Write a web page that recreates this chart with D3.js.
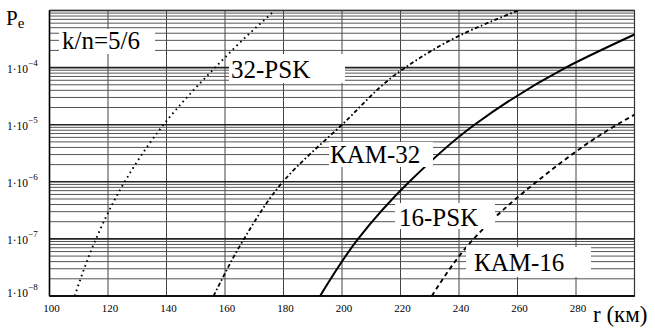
<!DOCTYPE html>
<html>
<head>
<meta charset="utf-8">
<script src="https://cdn.jsdelivr.net/npm/d3@7"></script>
<style>
  body { margin: 0; background: #fff; }
</style>
</head>
<body>
<svg id="chart"></svg>
<script>
// distance r (km) and error probability Pe
const psk32R = [108.6, 115.9, 125.7, 139.0, 156.6, 166.2, 177];
const psk32P = [1e-8, 1e-7, 1e-6, 1e-5, 1e-4, 3.1e-4, 1e-3];
const qam32R = [156.1, 166.5, 179.8, 200.0, 221.6, 240.0, 260.2];
const qam32P = [1e-8, 1e-7, 1e-6, 1e-5, 1e-4, 3.6e-4, 1e-3];
const psk16R = [192.5, 205.5, 223.0, 245.3, 276.5, 300];
const psk16P = [1e-8, 1e-7, 1e-6, 1e-5, 1e-4, 3.8e-4];
const qam16R = [230.7, 245.0, 266.5, 294.0, 300];
const qam16P = [1e-8, 1e-7, 1e-6, 1e-5, 1.5e-5];

const xTicks = [100, 120, 140, 160, 180, 200, 220, 240, 260, 280];
const decades = [-8, -7, -6, -5, -4];

const width = 655, height = 329;
const margin = {top: 10.5, right: 20.5, bottom: 33, left: 49.5};
const serif = "Liberation Serif, Times New Roman, DejaVu Serif, serif";

const svg = d3.select("#chart")
    .attr("width", width).attr("height", height)
    .style("font-family", serif);

const x = d3.scaleLinear().domain([100, 300]).range([margin.left, width - margin.right]);
const y = d3.scaleLog().domain([1e-8, 1e-3]).range([height - margin.bottom, margin.top]);

const grid = svg.append("g");

// vertical grid
grid.selectAll(".vx")
    .data(d3.range(100, 301, 20))
    .join("line")
    .attr("x1", d => x(d)).attr("x2", d => x(d))
    .attr("y1", y(1e-3)).attr("y2", y(1e-8))
    .attr("stroke", "#444").attr("stroke-width", 1);

// minor horizontal grid (2..9 per decade)
const minor = [];
decades.forEach(dc => { for (let k = 2; k <= 9; k++) minor.push(k * Math.pow(10, dc)); });
grid.selectAll(".hm")
    .data(minor)
    .join("line")
    .attr("x1", x(100)).attr("x2", x(300))
    .attr("y1", d => y(d)).attr("y2", d => y(d))
    .attr("stroke", "#555").attr("stroke-width", 1);

// decade lines
grid.selectAll(".hM")
    .data(d3.range(-8, -2).map(d => Math.pow(10, d)))
    .join("line")
    .attr("x1", x(100)).attr("x2", x(300))
    .attr("y1", d => y(d)).attr("y2", d => y(d))
    .attr("stroke", "#222").attr("stroke-width", 1.6);

// frame
svg.append("rect")
    .attr("x", x(100)).attr("y", y(1e-3))
    .attr("width", x(300) - x(100)).attr("height", y(1e-8) - y(1e-3))
    .attr("fill", "none").attr("stroke", "#333").attr("stroke-width", 1.2);
svg.append("line")
    .attr("x1", x(100)).attr("x2", x(300)).attr("y1", y(1e-8)).attr("y2", y(1e-8))
    .attr("stroke", "#000").attr("stroke-width", 1.5);
svg.append("line")
    .attr("x1", x(100)).attr("x2", x(100)).attr("y1", y(1e-3)).attr("y2", y(1e-8))
    .attr("stroke", "#000").attr("stroke-width", 1.5);

// curves
svg.append("clipPath").attr("id", "clip")
    .append("rect")
    .attr("x", x(100)).attr("y", y(1e-3))
    .attr("width", x(300) - x(100)).attr("height", y(1e-8) - y(1e-3));

const line = d3.line()
    .x(d => x(d[0]))
    .y(d => y(d[1]))
    .curve(d3.curveMonotoneY);

const series = [
    {r: psk32R, p: psk32P, dash: "1.6,3.6", w: 1.9},
    {r: qam32R, p: qam32P, dash: "4,2.5,1.6,2.5", w: 1.8},
    {r: psk16R, p: psk16P, dash: null, w: 2},
    {r: qam16R, p: qam16P, dash: "4.5,3.5", w: 1.9}
];

svg.append("g").attr("clip-path", "url(#clip)")
    .selectAll("path")
    .data(series)
    .join("path")
    .attr("d", s => line(s.r.map((r, i) => [r, s.p[i]])))
    .attr("fill", "none")
    .attr("stroke", "#000")
    .attr("stroke-width", s => s.w)
    .attr("stroke-dasharray", s => s.dash);

// labels with white boxes
const labels = [
    {t: "k/n=5/6", x0: 59, y0: 29, w: 96, h: 25, tx: 62, ty: 49},
    {t: "32-PSK", x0: 229, y0: 54, w: 116, h: 29, tx: 231, ty: 78},
    {t: "КАМ-32", x0: 329, y0: 142, w: 104, h: 25, tx: 330, ty: 163},
    {t: "16-PSK", x0: 395, y0: 203, w: 100, h: 26, tx: 399, ty: 226},
    {t: "КАМ-16", x0: 466, y0: 247, w: 125, h: 30, tx: 474, ty: 271}
];
const lab = svg.append("g");
lab.selectAll("rect")
    .data(labels)
    .join("rect")
    .attr("x", d => d.x0).attr("y", d => d.y0)
    .attr("width", d => d.w).attr("height", d => d.h)
    .attr("fill", "#fff");
lab.selectAll("text")
    .data(labels)
    .join("text")
    .attr("x", d => d.tx).attr("y", d => d.ty)
    .attr("font-size", 25)
    .text(d => d.t);

// x tick labels
svg.append("g").selectAll("text")
    .data(xTicks)
    .join("text")
    .attr("x", d => x(d) + 2)
    .attr("y", height - margin.bottom + 16)
    .attr("text-anchor", "middle")
    .attr("font-size", 11)
    .text(d => d);

// y tick labels 1·10^n
const yl = svg.append("g").selectAll("text")
    .data(decades)
    .join("text")
    .attr("x", 7)
    .attr("y", d => y(Math.pow(10, d)) + (d === -8 ? 1 : 5))
    .attr("font-size", 11.5);
yl.append("tspan").text("1·10");
yl.append("tspan")
    .attr("dy", -7)
    .attr("font-size", 9)
    .text(d => "\u2212" + (-d));

// axis titles
const pe = svg.append("text").attr("x", 6).attr("y", 25).attr("font-size", 21);
pe.append("tspan").text("P");
pe.append("tspan").attr("dy", 3).attr("font-size", 15).text("e");

svg.append("text")
    .attr("x", 593).attr("y", 322)
    .attr("font-size", 23)
    .text("r (км)");
</script>
</body>
</html>
